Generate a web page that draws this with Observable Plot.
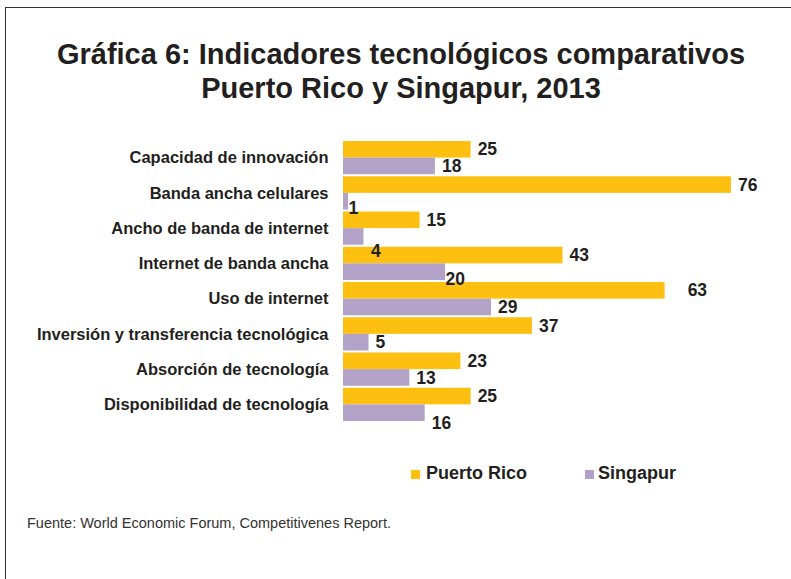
<!DOCTYPE html>
<html>
<head>
<meta charset="utf-8">
<script src="https://cdn.jsdelivr.net/npm/d3@7"></script>
<script src="https://cdn.jsdelivr.net/npm/@observablehq/plot@0.6"></script>
<style>
  html, body { margin: 0; padding: 0; background: #fff; overflow: hidden; }
  #wrap { position: relative; width: 791px; height: 579px; font-family: "Liberation Sans", Arial, sans-serif; color: #231f20; }
  #frame { position: absolute; left: 5px; top: 7px; right: -10px; bottom: -10px; border-left: 1px solid #333; border-top: 1px solid #333; }
  #title { position: absolute; left: 11px; width: 780px; top: 37px; text-align: center; font-size: 29px; line-height: 34px; font-weight: bold; }
  #chart { position: absolute; left: 0; top: 0; }
  #chart svg { overflow: visible; }
  #chart g[aria-label="y-axis tick label"] text { font-weight: bold; }
  .lg { position: absolute; top: 464px; font-size: 18px; line-height: 18px; font-weight: bold; white-space: nowrap; }
  .sw { position: absolute; top: 470px; width: 8.5px; height: 8.5px; }
  #caption { position: absolute; left: 27px; top: 515.5px; font-size: 14.5px; line-height: 14px; color: #333; white-space: nowrap; }
</style>
</head>
<body>
<div id="wrap">
  <div id="frame"></div>
  <div id="chart"></div>
  <div id="title"></div>
  <div id="legend"></div>
  <div id="caption"></div>
</div>
<script>
// ---- Data ----
const titleLines = ["Gráfica 6: Indicadores tecnológicos comparativos", "Puerto Rico y Singapur, 2013"];
const categories = [
  "Capacidad de innovación",
  "Banda ancha celulares",
  "Ancho de banda de internet",
  "Internet de banda ancha",
  "Uso de internet",
  "Inversión y transferencia tecnológica",
  "Absorción de tecnología",
  "Disponibilidad de tecnología"
];
const seriesNames = ["Puerto Rico", "Singapur"];
const puertoRico = [25, 76, 15, 43, 63, 37, 23, 25];
const singapur   = [18, 1, 4, 20, 29, 5, 13, 16];
const captionText = "Fuente: World Economic Forum, Competitivenes Report.";

// ---- Styles ----
const colors = ["#FDC010", "#B3A2C7"];
const textColor = "#231f20";
// label nudges [dx, dy] in px, as placed in the original
const nudgePR  = [[0,0],[0,0],[0,0],[0,0],[16,0],[0,0],[0,0],[0,0]];
const nudgeSG  = [[0,0],[-6.5,7],[0.5,14],[-6.5,7],[0,0],[0,0],[0,0],[0,10]];

const table = categories.flatMap((c, i) => [
  {cat: c, series: seriesNames[0], value: puertoRico[i], k: 0, nudge: nudgePR[i]},
  {cat: c, series: seriesNames[1], value: singapur[i], k: 1, nudge: nudgeSG[i]}
]);

const W = 791, H = 579;
const base = {
  width: W, height: H,
  marginLeft: 343, marginRight: 60, marginTop: 141, marginBottom: H - 421,
  style: {fontFamily: '"Liberation Sans", Arial, sans-serif', color: textColor, background: "transparent"},
  x: {domain: [0, 76], axis: null},
  y: {type: "band", domain: categories, paddingInner: 0.057, paddingOuter: 0, round: false, label: null}
};

// first pass to get band width
const probe = Plot.plot({...base, marks: [Plot.barX(table, {x: "value", y: "cat"})]});
let bw = probe.scale("y").bandwidth;
if (!(bw > 0)) {
  const step = (421 - 141) / (categories.length - 0.057);
  bw = step * (1 - 0.057);
}
const half = bw / 2;

const labelMarks = table.map(d => Plot.text([d], {
  x: "value", y: "cat", text: d => String(d.value),
  textAnchor: "start",
  dx: 6.5 + d.nudge[0],
  dy: (d.k === 0 ? -bw / 4 : bw / 4) + d.nudge[1],
  fontSize: 17.5, fontWeight: "bold", fill: textColor
}));

const chart = Plot.plot({
  ...base,
  marks: [
    Plot.barX(table.filter(d => d.k === 0), {x: "value", y: "cat", fill: colors[0], insetBottom: half, insetTop: 0}),
    Plot.barX(table.filter(d => d.k === 1), {x: "value", y: "cat", fill: colors[1], insetTop: half, insetBottom: 0}),
    Plot.axisY({tickSize: 0, tickPadding: 15, fontSize: 16.5, fontWeight: "bold", label: null, fill: textColor}),
    ...labelMarks
  ]
});
document.getElementById("chart").appendChild(chart);

document.getElementById("title").innerHTML = titleLines.join("<br>");

const legendPos = [{sw: 411, tx: 426}, {sw: 585, tx: 598}];
const lg = document.getElementById("legend");
seriesNames.forEach((s, i) => {
  const sw = document.createElement("div");
  sw.className = "sw"; sw.style.left = legendPos[i].sw + "px"; sw.style.background = colors[i];
  const t = document.createElement("div");
  t.className = "lg"; t.style.left = legendPos[i].tx + "px"; t.textContent = s;
  lg.appendChild(sw); lg.appendChild(t);
});
document.getElementById("caption").textContent = captionText;
</script>
</body>
</html>
